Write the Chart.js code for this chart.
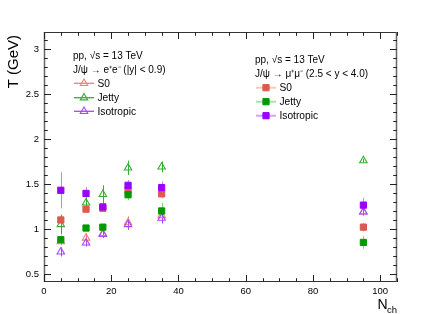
<!DOCTYPE html>
<html><head><meta charset="utf-8">
<script src="https://cdn.jsdelivr.net/npm/chart.js@4.4.0/dist/chart.umd.min.js"></script>
<style>html,body{margin:0;padding:0;background:#fff;}canvas{display:block;}</style>
</head><body>
<canvas id="c" width="441" height="314"></canvas>
<script>
// ---- data ----
const nch = [5, 12.5, 17.5, 25, 35, 95];
// forward rapidity, J/psi -> mu+mu- (filled squares)
const s0Dimuon        = [1.10, 1.22, 1.23, 1.43, 1.39, 1.02];
const s0DimuonErr     = [0.04, 0.04, 0.03, 0.05, 0.05, 0.05];
const jettyDimuon     = [0.88, 1.01, 1.02, 1.38, 1.20, 0.85];
const jettyDimuonErr  = [0.05, 0.03, 0.03, 0.06, 0.09, 0.07];
const isoDimuon       = [1.43, 1.395, 1.245, 1.485, 1.46, 1.265];
const isoDimuonErr    = [0.20, 0.07, 0.03, 0.06, 0.07, 0.08];
// mid rapidity, J/psi -> e+e- (open triangles)
const s0Dielec        = [0.86, 0.90, 0.95, 1.07, 1.15, 1.19];
const s0DielecErr     = [0.04, 0.05, 0.04, 0.07, 0.05, 0.04];
const jettyDielec     = [1.05, 1.29, 1.385, 1.68, 1.69, 1.76];
const jettyDielecErr  = [0.11, 0.06, 0.10, 0.08, 0.06, 0.02];
const isoDielec       = [0.745, 0.845, 0.94, 1.05, 1.12, 1.19];
const isoDielecErr    = [0.05, 0.04, 0.04, 0.06, 0.06, 0.04];
// axes
const xTickValues = [0, 20, 40, 60, 80, 100];
const xTickLabels = ['0', '20', '40', '60', '80', '100'];
const yTickValues = [0.5, 1, 1.5, 2, 2.5, 3];
const yTickLabels = ['0.5', '1', '1.5', '2', '2.5', '3'];

const FONT = "'Liberation Sans', Arial, Helvetica, sans-serif";
const C = {
  s0Sq: '#dc5a50', s0SqBar: '#f2b898', s0SqLeg: '#f5cdb0',
  jeSq: '#009a00', jeSqBar: '#7cd07c', jeSqLeg: '#a8e4a8',
  isSq: '#9900ff', isSqBar: '#c184ff', isSqLeg: '#cfa4ff',
  s0Tr: '#ee8078', jeTr: '#36ad36', isTr: '#a447ff'
};

function pts(ys){ return nch.map((x,i)=>({x:x, y:ys[i]})); }
function sq(label, ys, errs, col, bar, order){
  return {label, data: pts(ys), errs, barColor: bar, pointStyle:'rect', pointRadius:4.4, pointHoverRadius:4.4,
    backgroundColor: col, borderColor: col, borderWidth: 1, showLine:false, order};
}
function tr(label, ys, errs, col, order){
  return {label, data: pts(ys), errs, barColor: col, pointStyle:'triangle', pointRadius:4.3, pointHoverRadius:4.3,
    backgroundColor: 'rgba(0,0,0,0)', borderColor: col, borderWidth: 1.1, showLine:false, order};
}

const datasets = [
  sq('S0 (μ⁺μ⁻)', s0Dimuon, s0DimuonErr, C.s0Sq, C.s0SqBar, 2),
  sq('Jetty (μ⁺μ⁻)', jettyDimuon, jettyDimuonErr, C.jeSq, C.jeSqBar, 1),
  sq('Isotropic (μ⁺μ⁻)', isoDimuon, isoDimuonErr, C.isSq, C.isSqBar, 0),
  tr('S0 (e⁺e⁻)', s0Dielec, s0DielecErr, C.s0Tr, 5),
  tr('Jetty (e⁺e⁻)', jettyDielec, jettyDielecErr, C.jeTr, 4),
  tr('Isotropic (e⁺e⁻)', isoDielec, isoDielecErr, C.isTr, 3)
];

const rootStyle = {
  id: 'rootStyle',
  beforeDatasetsDraw(chart){
    const ctx = chart.ctx, xs = chart.scales.x, ys = chart.scales.y;
    ctx.save();
    chart.data.datasets.forEach(ds => {
      ctx.strokeStyle = ds.barColor; ctx.lineWidth = 1;
      ds.data.forEach((p,i) => {
        const e = ds.errs[i]; if (!e) return;
        const px = Math.round(xs.getPixelForValue(p.x)) + 0.5;
        ctx.beginPath();
        ctx.moveTo(px, ys.getPixelForValue(p.y + e));
        ctx.lineTo(px, ys.getPixelForValue(p.y - e));
        ctx.stroke();
      });
    });
    ctx.restore();
  },
  afterDraw(chart){
    const ctx = chart.ctx, a = chart.chartArea, xs = chart.scales.x, ys = chart.scales.y;
    ctx.save();
    // frame
    ctx.strokeStyle = '#333'; ctx.lineWidth = 1;
    ctx.strokeRect(a.left + 0.5, a.top + 0.5, a.right - a.left - 1, a.bottom - a.top - 1);
    ctx.strokeStyle = '#666'; ctx.lineWidth = 1.5;
    ctx.beginPath(); ctx.moveTo(a.left + 0.5, a.top); ctx.lineTo(a.left + 0.5, a.bottom); ctx.stroke();
    ctx.beginPath(); ctx.moveTo(a.right - 0.5, a.top); ctx.lineTo(a.right - 0.5, a.bottom); ctx.stroke();
    ctx.strokeStyle = '#222'; ctx.lineWidth = 1;
    // x ticks
    for (let v = 0; v <= 105; v += 5) {
      const px = Math.round(xs.getPixelForValue(v)) + 0.5;
      const len = (v % 20 === 0) ? 7 : 3.8;
      ctx.beginPath();
      ctx.moveTo(px, a.bottom); ctx.lineTo(px, a.bottom - len);
      ctx.moveTo(px, a.top); ctx.lineTo(px, a.top + len);
      ctx.stroke();
    }
    // y ticks
    for (let i = 5; i <= 31; i++) {
      const v = i / 10;
      const py = Math.round(ys.getPixelForValue(v)) + 0.5;
      const len = (i % 5 === 0) ? 7 : 3.8;
      ctx.beginPath();
      ctx.moveTo(a.left, py); ctx.lineTo(a.left + len, py);
      ctx.moveTo(a.right, py); ctx.lineTo(a.right - len, py);
      ctx.stroke();
    }
    // axis titles
    ctx.fillStyle = '#000';
    ctx.font = '15px ' + FONT;
    ctx.save();
    ctx.translate(17.5, 35); ctx.rotate(-Math.PI / 2);
    ctx.textAlign = 'right'; ctx.textBaseline = 'alphabetic';
    ctx.fillText('T (GeV)', 0, 0);
    ctx.restore();
    ctx.textAlign = 'left'; ctx.textBaseline = 'alphabetic';
    ctx.font = '14px ' + FONT;
    ctx.fillText('N', 377.5, 308.5);
    ctx.font = '9.5px ' + FONT;
    ctx.fillText('ch', 387, 312.5);

    // legends
    function entry(x, y, text, style, col, lineCol, lw, fill){
      ctx.strokeStyle = lineCol; ctx.lineWidth = lw;
      ctx.beginPath(); ctx.moveTo(x, y); ctx.lineTo(x + 20, y); ctx.stroke();
      ctx.fillStyle = fill; ctx.strokeStyle = col; ctx.lineWidth = style === 'rect' ? 1 : 1.1;
      Chart.helpers.drawPoint(ctx, {pointStyle: style, radius: style === 'rect' ? 4.4 : 4.3, rotation: 0, borderWidth: 1}, x + 10, y);
      ctx.fillStyle = '#000';
      ctx.font = '10.2px ' + FONT;
      ctx.fillText(text, x + 23.5, y + 3.6);
    }
    ctx.font = '10px ' + FONT; ctx.fillStyle = '#000';
    ctx.fillText('pp, √s = 13 TeV', 73, 59);
    ctx.fillText('J/ψ → e⁺e⁻ (|y| < 0.9)', 73, 73);
    entry(74, 83.3, 'S0', 'triangle', C.s0Tr, C.s0Tr, 1.3, 'rgba(0,0,0,0)');
    entry(74, 97.7, 'Jetty', 'triangle', C.jeTr, C.jeTr, 1.3, 'rgba(0,0,0,0)');
    entry(74, 111.3, 'Isotropic', 'triangle', C.isTr, C.isTr, 1.3, 'rgba(0,0,0,0)');

    ctx.font = '10px ' + FONT; ctx.fillStyle = '#000';
    ctx.fillText('pp, √s = 13 TeV', 255, 63.2);
    ctx.fillText('J/ψ → μ⁺μ⁻ (2.5 < y < 4.0)', 255, 77.2);
    entry(256, 87.7, 'S0', 'rect', C.s0Sq, C.s0SqLeg, 2, C.s0Sq);
    entry(256, 101.7, 'Jetty', 'rect', C.jeSq, C.jeSqLeg, 2, C.jeSq);
    entry(256, 115.7, 'Isotropic', 'rect', C.isSq, C.isSqLeg, 2, C.isSq);
    ctx.restore();
  }
};

new Chart(document.getElementById('c'), {
  type: 'scatter',
  data: { datasets },
  options: {
    responsive: false, animation: false, devicePixelRatio: 1,
    layout: { padding: { left: 0, right: 44, top: 32, bottom: 0 } },
    plugins: { legend: { display: false }, tooltip: { enabled: false } },
    scales: {
      x: {
        type: 'linear', min: 0, max: 105,
        grid: { display: false, drawTicks: false }, border: { display: false },
        afterBuildTicks: s => { s.ticks = xTickValues.map(v => ({ value: v })); },
        afterFit: s => { s.height = 32; },
        ticks: { autoSkip: false, maxRotation: 0, padding: 4, color: '#000',
          font: { family: FONT, size: 9.5 },
          callback: (v) => xTickLabels[xTickValues.indexOf(v)] }
      },
      y: {
        type: 'linear', min: 0.41, max: 3.19,
        grid: { display: false, drawTicks: false }, border: { display: false },
        afterBuildTicks: s => { s.ticks = yTickValues.map(v => ({ value: v })); },
        afterFit: s => { s.width = 44; },
        ticks: { autoSkip: false, padding: 5, color: '#000',
          font: { family: FONT, size: 9.5 },
          callback: (v) => yTickLabels[yTickValues.indexOf(v)] }
      }
    }
  },
  plugins: [rootStyle]
});
</script>
</body></html>
